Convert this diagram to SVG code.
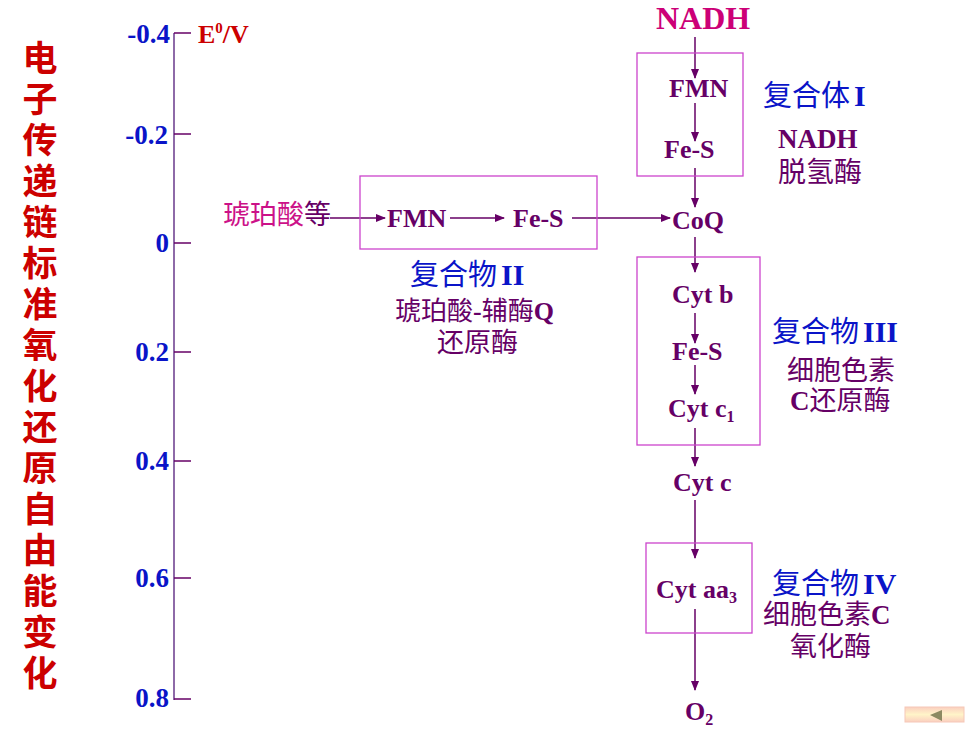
<svg xmlns="http://www.w3.org/2000/svg" width="980" height="735" viewBox="0 0 980 735">
<style>
.lat{font-family:"Liberation Serif","Times New Roman",serif;font-weight:bold}
.cjk{font-family:"Noto Sans CJK SC","Noto Sans",sans-serif}
.pur{fill:#660066}
.blu{fill:#0a14c8}
.mag{fill:#cc0077}
.red{fill:#cc0000}
.box{fill:none;stroke:#cc44cc;stroke-width:1.3}
.ax{fill:#0a14c8;font-size:27px;text-anchor:end}
.nd{font-size:26px}
.arr{stroke:#660066;stroke-width:1.5;fill:none;marker-end:url(#ah)}
.tick{stroke:#660066;stroke-width:1.5}
</style>
<defs>
<marker id="ah" markerWidth="10" markerHeight="8" refX="9" refY="4" orient="auto" markerUnits="userSpaceOnUse">
<path d="M0,0 L10,4 L0,8 Z" fill="#660066"/>
</marker>
<linearGradient id="btn" x1="0" y1="0" x2="0" y2="1">
<stop offset="0" stop-color="#fbcfc0"/>
<stop offset="0.5" stop-color="#fff4c8"/>
<stop offset="1" stop-color="#fbcfc0"/>
</linearGradient>
</defs>
<rect width="980" height="735" fill="#ffffff"/>

<g id="title">
<text class="cjk red" x="40" y="40" font-size="35" writing-mode="tb" letter-spacing="6" font-weight="bold">电子传递链标准氧化还原自由能变化</text>
</g>

<g id="axis">
<line x1="174" y1="33" x2="174" y2="700" stroke="#8e6aa8" stroke-width="2"/>
<line class="tick" x1="174" y1="33" x2="191" y2="33"/>
<line class="tick" x1="174" y1="134" x2="191" y2="134"/>
<line class="tick" x1="174" y1="243" x2="191" y2="243"/>
<line class="tick" x1="174" y1="352" x2="191" y2="352"/>
<line class="tick" x1="174" y1="461" x2="191" y2="461"/>
<line class="tick" x1="174" y1="578" x2="191" y2="578"/>
<line class="tick" x1="174" y1="699" x2="191" y2="699"/>
<text class="lat ax" x="170" y="43">-0.4</text>
<text class="lat ax" x="168" y="144">-0.2</text>
<text class="lat ax" x="169" y="252">0</text>
<text class="lat ax" x="169" y="361">0.2</text>
<text class="lat ax" x="169" y="470">0.4</text>
<text class="lat ax" x="169" y="587">0.6</text>
<text class="lat ax" x="169" y="707">0.8</text>
<text class="lat red" x="198" y="43" font-size="26">E<tspan font-size="15" dy="-10">0</tspan><tspan dy="10">/V</tspan></text>
</g>

<g id="connectors">
<line class="arr" x1="695" y1="37" x2="695" y2="78"/>
<line class="arr" x1="695" y1="103" x2="695" y2="141"/>
<line class="arr" x1="695" y1="168" x2="695" y2="207"/>
<line class="arr" x1="330" y1="218" x2="385" y2="218"/>
<line class="arr" x1="450" y1="218" x2="504" y2="218"/>
<line class="arr" x1="572" y1="218" x2="670" y2="218"/>
<line class="arr" x1="695" y1="237" x2="695" y2="272"/>
<line class="arr" x1="695" y1="313" x2="695" y2="343"/>
<line class="arr" x1="695" y1="365" x2="695" y2="394"/>
<line class="arr" x1="695" y1="428" x2="695" y2="466"/>
<line class="arr" x1="695" y1="500" x2="695" y2="558"/>
<line class="arr" x1="695" y1="609" x2="695" y2="690"/>
</g>

<g id="nadh">
<text class="lat mag" x="656" y="29" font-size="32">NADH</text>
</g>

<g id="complex1">
<rect class="box" x="637" y="53" width="106" height="123"/>
<text class="lat pur nd" x="669" y="97">FMN</text>
<text class="lat pur nd" x="664" y="158">Fe-S</text>
<text class="cjk blu" x="763" y="106" font-size="29">复合体<tspan class="lat" font-size="30" dx="4">I</tspan></text>
<text class="cjk pur" font-size="28"><tspan class="lat" x="778" y="148" font-size="27">NADH</tspan><tspan x="778" y="182">脱氢酶</tspan></text>
</g>

<g id="coq">
<text class="lat pur nd" x="672" y="229">CoQ</text>
</g>

<g id="succinate">
<text class="cjk" x="223" y="224" font-size="27" fill="#cc1188">琥珀酸<tspan fill="#660066">等</tspan></text>
</g>

<g id="complex2">
<rect class="box" x="360" y="176" width="237" height="73"/>
<text class="lat pur nd" x="387" y="227">FMN</text>
<text class="lat pur nd" x="513" y="227">Fe-S</text>
<text class="cjk" font-size="27"><tspan class="blu" x="410" y="285" font-size="29">复合物<tspan class="lat" font-size="30" dx="4">II</tspan></tspan><tspan class="pur" x="395" y="320" font-size="26">琥珀酸<tspan class="lat">-</tspan>辅酶<tspan class="lat">Q</tspan></tspan><tspan class="pur" x="437" y="352">还原酶</tspan></text>
</g>

<g id="complex3">
<rect class="box" x="637" y="257" width="123" height="188"/>
<text class="lat pur nd" x="672" y="303">Cyt b</text>
<text class="lat pur nd" x="672" y="360">Fe-S</text>
<text class="lat pur nd" x="668" y="417">Cyt c<tspan font-size="16" dy="5">1</tspan></text>
<text class="cjk" font-size="27"><tspan class="blu" x="772" y="342" font-size="29">复合物<tspan class="lat" font-size="30" dx="4">III</tspan></tspan><tspan class="pur" x="787" y="380">细胞色素</tspan><tspan class="pur" x="790" y="410"><tspan class="lat">C</tspan>还原酶</tspan></text>
</g>

<g id="cytc">
<text class="lat pur nd" x="673" y="491">Cyt c</text>
</g>

<g id="complex4">
<rect class="box" x="646" y="543" width="106" height="90"/>
<text class="lat pur nd" x="656" y="598">Cyt aa<tspan font-size="16" dy="5">3</tspan></text>
<text class="cjk" font-size="27"><tspan class="blu" x="772" y="594" font-size="29">复合物<tspan class="lat" font-size="30" dx="4">IV</tspan></tspan><tspan class="pur" x="763" y="624">细胞色素<tspan class="lat">C</tspan></tspan><tspan class="pur" x="790" y="656">氧化酶</tspan></text>
</g>

<g id="o2">
<text class="lat pur nd" x="685" y="720">O<tspan font-size="16" dy="5">2</tspan></text>
</g>

<g id="button">
<rect x="905" y="707" width="59" height="15" fill="url(#btn)" stroke="#f5c8b8" stroke-width="1"/>
<path d="M930,715 L942,710 L942,721 Z" fill="#8c8a62"/>
</g>
</svg>
